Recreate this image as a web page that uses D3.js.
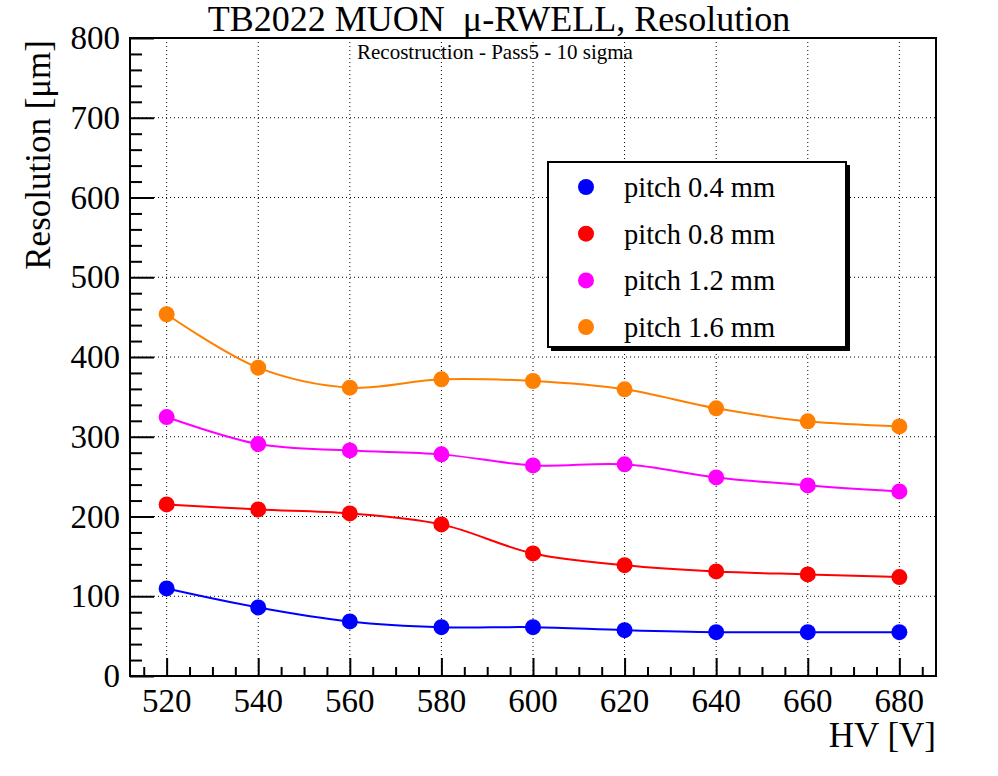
<!DOCTYPE html>
<html>
<head>
<meta charset="utf-8">
<script src="https://cdn.jsdelivr.net/npm/d3@7"></script>
<style>
  html, body { margin: 0; padding: 0; background: #fff; }
  svg text { font-family: "Liberation Serif", "DejaVu Serif", serif; fill: #000; }
</style>
</head>
<body>
<svg id="chart" width="998" height="776"></svg>
<script>
// ---- data ----
const hv = [520, 540, 560, 580, 600, 620, 640, 660, 680];
const pitch04 = [109.8, 86.0, 68.4, 61.2, 61.2, 57.5, 55.0, 55.0, 55.0];
const pitch08 = [215.2, 208.9, 203.9, 190.1, 153.7, 139.0, 131.1, 127.4, 124.0];
const pitch12 = [324.7, 290.8, 282.8, 277.9, 264.1, 265.4, 249.0, 239.0, 231.5];
const pitch16 = [453.6, 386.6, 361.5, 372.0, 369.9, 359.5, 335.6, 319.3, 313.0];
const seriesNames = ["pitch 0.4 mm", "pitch 0.8 mm", "pitch 1.2 mm", "pitch 1.6 mm"];
const seriesColors = ["#0000ff", "#ff0000", "#ff00ff", "#ff7f00"];
const xTicks = [520, 540, 560, 580, 600, 620, 640, 660, 680];
const yTicks = [0, 100, 200, 300, 400, 500, 600, 700, 800];

const allSeries = [pitch04, pitch08, pitch12, pitch16];

const svg = d3.select("#chart");
const L = 130, R = 936, T = 38, B = 676;

const x = d3.scaleLinear().domain([512, 688]).range([L, R]);
const y = d3.scaleLinear().domain([0, 800]).range([B, T]);

// grid
const grid = svg.append("g");
xTicks.forEach(t => {
  grid.append("line").attr("x1", x(t)).attr("x2", x(t)).attr("y1", T).attr("y2", B)
    .attr("stroke", "#000").attr("stroke-width", 1).attr("stroke-dasharray", "1,3");
});
yTicks.forEach(t => {
  grid.append("line").attr("x1", L).attr("x2", R).attr("y1", y(t)).attr("y2", y(t))
    .attr("stroke", "#000").attr("stroke-width", 1).attr("stroke-dasharray", "1,3");
});

// axes (tick marks via d3 axes, labels as plain serif text from the scales)
const xMinor = d3.range(515, 689, 5).filter(v => !xTicks.includes(v));
const yMinor = d3.range(0, 801, 20).filter(v => !yTicks.includes(v));

function styleAxis(g) {
  g.select(".domain").remove();
  g.selectAll(".tick line").attr("stroke", "#000").attr("stroke-width", 2);
  g.selectAll(".tick text").remove();
}
svg.append("g").attr("transform", `translate(0,${B})`)
  .call(d3.axisBottom(x).tickValues(xTicks).tickSize(-18).tickFormat("")).call(styleAxis);
svg.append("g").attr("transform", `translate(0,${B})`)
  .call(d3.axisBottom(x).tickValues(xMinor).tickSize(-9).tickFormat("")).call(styleAxis);
svg.append("g").attr("transform", `translate(${L},0)`)
  .call(d3.axisLeft(y).tickValues(yTicks).tickSize(-24).tickFormat("")).call(styleAxis);
svg.append("g").attr("transform", `translate(${L},0)`)
  .call(d3.axisLeft(y).tickValues(yMinor).tickSize(-12).tickFormat("")).call(styleAxis);

const labels = svg.append("g");
labels.selectAll("text.xl").data(xTicks).join("text").attr("class", "xl")
  .attr("x", d => x(d)).attr("y", B + 36).attr("text-anchor", "middle")
  .attr("font-size", 33).text(d => d);
labels.selectAll("text.yl").data(yTicks).join("text").attr("class", "yl")
  .attr("x", L - 10).attr("y", d => y(d)).attr("dy", "0.34em").attr("text-anchor", "end")
  .attr("font-size", 33).text(d => d);

// frame
svg.append("rect").attr("x", L).attr("y", T).attr("width", R - L).attr("height", B - T)
  .attr("fill", "none").attr("stroke", "#000").attr("stroke-width", 2);

// series
const line = d3.line().x((d, i) => x(hv[i])).y(d => y(d)).curve(d3.curveCatmullRom.alpha(0.5));
allSeries.forEach((s, k) => {
  svg.append("path").datum(s).attr("d", line).attr("fill", "none")
    .attr("stroke", seriesColors[k]).attr("stroke-width", 2);
  svg.append("g").selectAll("circle").data(s).join("circle")
    .attr("cx", (d, i) => x(hv[i])).attr("cy", d => y(d)).attr("r", 8)
    .attr("fill", seriesColors[k]);
});

// legend
const lg = svg.append("g");
lg.append("rect").attr("x", 551).attr("y", 165).attr("width", 299).attr("height", 186).attr("fill", "#000");
lg.append("rect").attr("x", 548).attr("y", 162).attr("width", 298).attr("height", 185)
  .attr("fill", "#fff").attr("stroke", "#000").attr("stroke-width", 2);
seriesNames.forEach((n, k) => {
  const cy = 187 + k * 46.7;
  lg.append("circle").attr("cx", 586).attr("cy", cy).attr("r", 8).attr("fill", seriesColors[k]);
  lg.append("text").attr("x", 624).attr("y", cy + 10).attr("font-size", 28.5).text(n);
});

// titles
svg.append("text").attr("x", 499).attr("y", 31).attr("text-anchor", "middle")
  .attr("font-size", 36).style("white-space", "pre").attr("xml:space", "preserve")
  .text("TB2022 MUON  \u03bc-RWELL, Resolution");
svg.append("text").attr("x", 495).attr("y", 59).attr("text-anchor", "middle")
  .attr("font-size", 21).text("Recostruction - Pass5 - 10 sigma");
svg.append("text").attr("transform", "translate(50,40) rotate(-90)").attr("text-anchor", "end")
  .attr("font-size", 35).text("Resolution [\u03bcm]");
svg.append("text").attr("x", 936).attr("y", 747).attr("text-anchor", "end")
  .attr("font-size", 35).text("HV [V]");
</script>
</body>
</html>
